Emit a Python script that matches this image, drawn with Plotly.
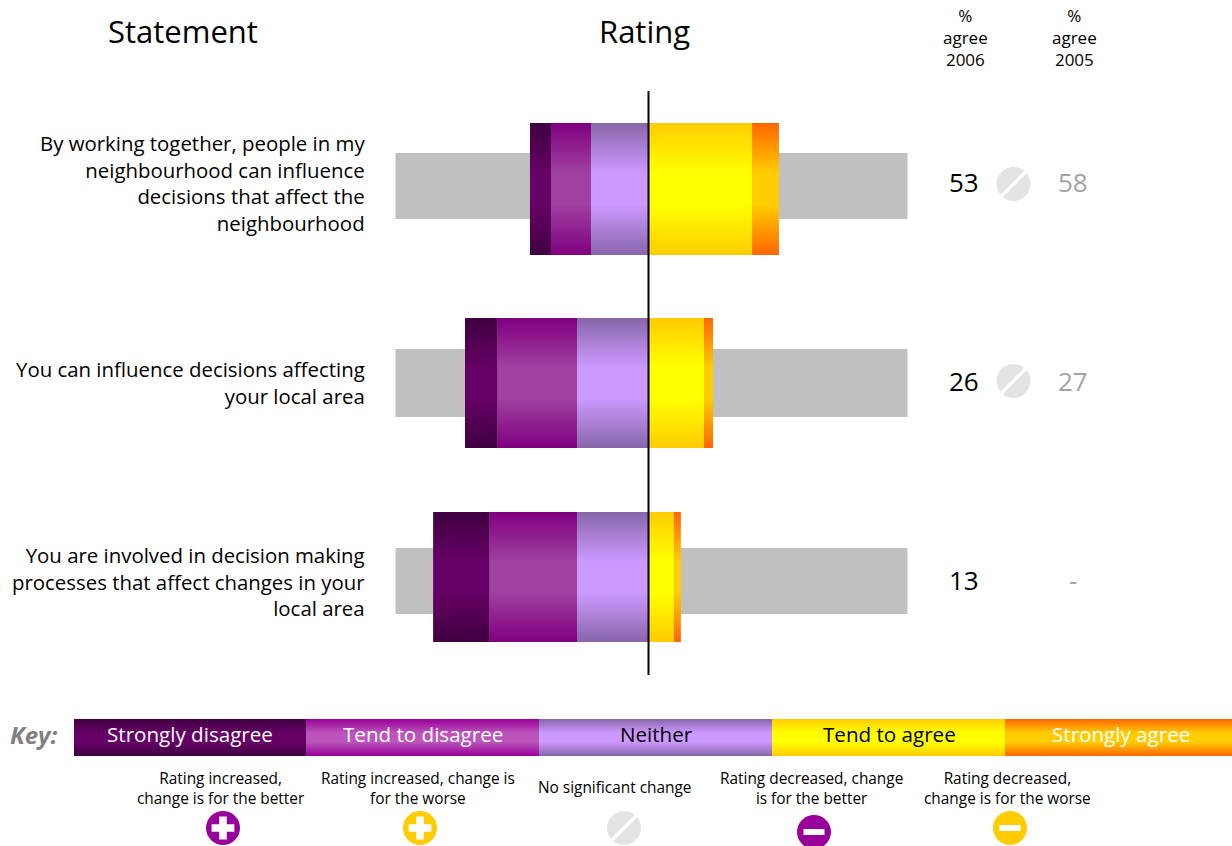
import plotly.graph_objects as go

statements = [
    "By working together, people in my<br>neighbourhood can influence<br>decisions that affect the<br>neighbourhood",
    "You can influence decisions affecting<br>your local area",
    "You are involved in decision making<br>processes that affect changes in your<br>local area",
]
strongly_disagree = [8.4, 12.9, 22.5]
tend_to_disagree = [16.1, 32.1, 35.3]
neither = [23.1, 28.7, 28.7]
tend_to_agree = [41.6, 22.3, 10.2]
strongly_agree = [10.8, 3.6, 2.8]
agree_2006 = ["53", "26", "13"]
agree_2005 = ["58", "27", "-"]
key_labels = ["Strongly disagree", "Tend to disagree", "Neither", "Tend to agree", "Strongly agree"]
change_labels = [
    "Rating increased,<br>change is for the better",
    "Rating increased, change is<br>for the worse",
    "No significant change",
    "Rating decreased, change<br>is for the better",
    "Rating decreased,<br>change is for the worse",
]

FONT = "Open Sans"
W, H = 1232, 846
ZERO_PX, PX_PER_PCT = 648.5, 2.49
TRACK_LO, TRACK_HI = -101.6, 104.0
SEAM = 0.25

bar_rows = [(123, 255), (318, 448), (512, 642)]
track_rows = [(153, 219), (349, 417), (548, 614)]
text_y = [182, 381, 580]
statement_y = [183, 382, 581]

bar_grad = [("#400040", "#660066"), ("#800080", "#a040a0"), ("#8866aa", "#cc99ff"),
            ("#ffcc00", "#ffff00"), ("#ff6600", "#ffcc00")]
key_grad = [("#400040", "#660066"), ("#990099", "#bb55bb"), ("#8866aa", "#cc99ff"),
            ("#ffcc00", "#ffff00"), ("#ff6600", "#ffcc00")]


def scale(edge, mid):
    return [[0, edge], [0.38, mid], [0.62, mid], [1, edge]]


def grad_rect(x0, x1, y0, y1, edge, mid, xaxis="x"):
    return go.Scatter(
        x=[x0, x1, x1, x0, x0], y=[y0, y0, y1, y1, y0], xaxis=xaxis, yaxis="y",
        mode="lines", line=dict(width=0), fill="toself",
        fillgradient=dict(type="vertical", colorscale=scale(edge, mid)),
        hoverinfo="skip", showlegend=False,
    )


fig = go.Figure()

# grey tracks
fig.add_trace(go.Bar(
    y=[(a + b) / 2 for a, b in track_rows],
    x=[TRACK_HI - TRACK_LO] * 3, base=[TRACK_LO] * 3,
    width=[b - a for a, b in track_rows], orientation="h",
    marker=dict(color="#c0c0c0", line=dict(width=0)), hoverinfo="skip", showlegend=False,
))

# diverging segments
series = [strongly_disagree, tend_to_disagree, neither, tend_to_agree, strongly_agree]
for r, (y0, y1) in enumerate(bar_rows):
    left = -(strongly_disagree[r] + tend_to_disagree[r] + neither[r])
    for s, vals in enumerate(series):
        over = SEAM if s < 4 else 0
        fig.add_trace(grad_rect(left, left + vals[r] + over, y0, y1, *bar_grad[s]))
        left += vals[r]

# key strip
key_edges = [74, 306, 539, 772, 1005, 1240]
for i in range(5):
    over = 0.5 if i < 4 else 0
    fig.add_trace(grad_rect(key_edges[i], key_edges[i + 1] + over, 719, 756, *key_grad[i], xaxis="x2"))


def marker_trace(x, y, symbol, size, color, line=None):
    return go.Scatter(x=[x], y=[y], xaxis="x2", yaxis="y", mode="markers",
                      marker=dict(symbol=symbol, size=size, color=color,
                                  line=line or dict(width=0)),
                      hoverinfo="skip", showlegend=False)


def icon(x, y, kind, color):
    fig.add_trace(marker_trace(x, y, "circle", 34, color))
    if kind == "plus":
        fig.add_trace(marker_trace(x, y, "cross", 19, "#ffffff"))
    elif kind == "minus":
        fig.add_trace(marker_trace(x, y, "line-ew", 15, "#ffffff", dict(width=6, color="#ffffff")))
    else:
        fig.add_trace(marker_trace(x, y, "line-ne", 26, "#ffffff", dict(width=3.5, color="#ffffff")))


icon(1013.5, 184, "none", "#e3e3e3")
icon(1013.5, 381, "none", "#e3e3e3")
icon(223, 828, "plus", "#990099")
icon(420, 828, "plus", "#ffcc00")
icon(624, 828, "none", "#e3e3e3")
icon(814, 832, "minus", "#990099")
icon(1010, 828, "minus", "#ffcc00")

ann = []


def text(x, y, s, size, color="#000000", anchor="center"):
    ann.append(dict(x=x, y=y, xref="x2", yref="y", text=s, showarrow=False,
                    xanchor=anchor, yanchor="middle", align=anchor,
                    font=dict(family=FONT, size=size, color=color)))


text(183, 31, "Statement", 31)
text(644, 31, "Rating", 31)
for x, yr in [(965, "2006"), (1074, "2005")]:
    text(x, 37, f"%<br>agree<br>{yr}", 17)

for i in range(3):
    text(366.5, statement_y[i], statements[i], 20.4, anchor="right")
    text(964, text_y[i], agree_2006[i], 26)
    text(1073, text_y[i], agree_2005[i], 26, color="#a3a3a3")

text(33.5, 734, "<b><i>Key:</i></b>", 24, color="#808080")
key_centres = [190, 423, 656, 889, 1121]
key_colors = ["#ffffff", "#ffffff", "#000000", "#000000", "#ffffff"]
for i in range(5):
    text(key_centres[i], 733.5, key_labels[i], 20.6, color=key_colors[i])

change_x = [221, 418, 614, 811, 1007]
change_y = [788, 788, 787.5, 788, 788]
for i in range(5):
    text(change_x[i], change_y[i], change_labels[i], 15.4)

fig.update_layout(
    width=W, height=H, margin=dict(l=0, r=0, t=0, b=0),
    paper_bgcolor="#ffffff", plot_bgcolor="#ffffff", barmode="overlay",
    showlegend=False, annotations=ann,
    xaxis=dict(range=[-ZERO_PX / PX_PER_PCT, (W - ZERO_PX) / PX_PER_PCT], visible=False, domain=[0, 1]),
    xaxis2=dict(range=[0, W], visible=False, overlaying="x", domain=[0, 1]),
    yaxis=dict(range=[H, 0], visible=False),
    shapes=[dict(type="line", xref="x", yref="y", x0=0, x1=0, y0=91, y1=675,
                 line=dict(color="#000000", width=2), layer="above")],
)

fig.write_html("out.html", config=dict(displayModeBar=False),
               post_script="document.body.style.margin='0';")
